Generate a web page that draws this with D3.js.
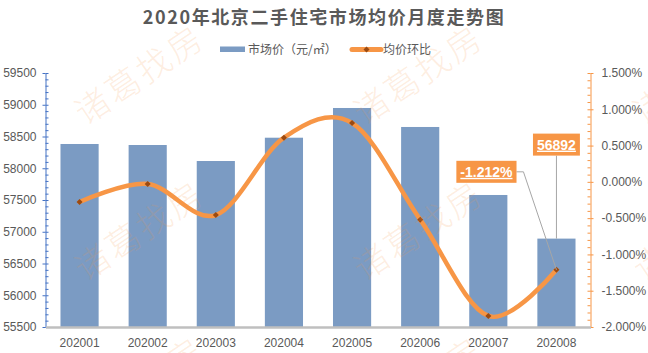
<!DOCTYPE html>
<html>
<head>
<meta charset="utf-8">
<script src="https://cdn.jsdelivr.net/npm/d3@7"></script>
<style>
  body { margin: 0; background: #fff; }
  svg { display: block; font-family: "Liberation Sans", "Noto Sans CJK SC", sans-serif; }
</style>
</head>
<body>
<div id="chart"></div>
<script>
// Data
const months = ['202001', '202002', '202003', '202004', '202005', '202006', '202007', '202008'];
const prices = [58382, 58366, 58114, 58481, 58949, 58650, 57579, 56892];   // 市场价（元/㎡）
const momPct = [-0.278, -0.030, -0.457, 0.609, 0.811, -0.521, -1.848, -1.212]; // 均价环比 (%)
const priceTicks = [55500, 56000, 56500, 57000, 57500, 58000, 58500, 59000, 59500];
const pctTicks = [-2, -1.5, -1, -0.5, 0, 0.5, 1, 1.5];

const width = 648;
const height = 353;
const margin = { top: 73, right: 57.5, bottom: 26, left: 45.5 };

const barColor = '#7b9bc3';
const lineColor = '#f79646';
const markerColor = '#9a4a12';
const textColor = '#595959';

const svg = d3.select('#chart').append('svg')
    .attr('width', width)
    .attr('height', height);

// Scales
const x = d3.scaleBand()
    .domain(months)
    .range([margin.left, width - margin.right])
    .paddingInner(0.44)
    .paddingOuter(0.22);

const yL = d3.scaleLinear()
    .domain([55500, 59500])
    .range([height - margin.bottom, margin.top]);

const yR = d3.scaleLinear()
    .domain([-2, 1.5])
    .range([height - margin.bottom, margin.top]);

const cx = d => x(d) + x.bandwidth() / 2;
const marker = d3.symbol(d3.symbolSquare, 18)();

// Title
svg.append('text')
    .attr('x', width / 2)
    .attr('y', 24)
    .attr('text-anchor', 'middle')
    .attr('font-family', '"Noto Sans CJK SC", sans-serif')
    .attr('font-size', 18)
    .attr('font-weight', 'bold')
    .attr('letter-spacing', 1.6)
    .attr('fill', textColor)
    .text('2020年北京二手住宅市场均价月度走势图');

// Legend
const legend = svg.append('g')
    .attr('font-family', '"Noto Sans CJK SC", sans-serif')
    .attr('font-size', 12)
    .attr('fill', textColor);
legend.append('rect')
    .attr('x', 220).attr('y', 46.5).attr('width', 25).attr('height', 5.5)
    .attr('fill', barColor);
legend.append('text')
    .attr('x', 248).attr('y', 53.5)
    .text('市场价（元/㎡）');
legend.append('line')
    .attr('x1', 352).attr('x2', 381).attr('y1', 49.5).attr('y2', 49.5)
    .attr('stroke', lineColor).attr('stroke-width', 5).attr('stroke-linecap', 'round');
legend.append('path')
    .attr('d', marker)
    .attr('transform', 'translate(366.5,49.5) rotate(45)')
    .attr('fill', markerColor);
legend.append('text')
    .attr('x', 383).attr('y', 53.5)
    .text('均价环比');

// Bars
svg.selectAll('rect.bar')
    .data(months)
    .enter().append('rect')
    .attr('class', 'bar')
    .attr('x', d => x(d))
    .attr('y', (d, i) => yL(prices[i]))
    .attr('width', x.bandwidth())
    .attr('height', (d, i) => yL(55500) - yL(prices[i]))
    .attr('fill', barColor);

// Left axis (major ticks cross the line, minor ticks inside)
const leftAxis = svg.append('g')
    .attr('transform', `translate(${margin.left},0)`)
    .call(d3.axisLeft(yL).tickValues(priceTicks).tickSize(3).tickSizeOuter(0).tickPadding(6)
        .tickFormat(d3.format('d')));
leftAxis.select('.domain').attr('stroke', '#4472c4');
leftAxis.selectAll('line').attr('stroke', '#4472c4');
leftAxis.selectAll('text').attr('fill', textColor).attr('font-size', 12);

const leftMinor = svg.append('g')
    .attr('transform', `translate(${margin.left},0)`)
    .call(d3.axisRight(yL).tickValues(d3.range(55500, 59501, 100)).tickSize(3).tickSizeOuter(0).tickFormat(''));
leftMinor.select('.domain').remove();
leftMinor.selectAll('line').attr('stroke', '#4472c4');

// Right axis
const rx = width - margin.right;
const rightAxis = svg.append('g')
    .attr('transform', `translate(${rx},0)`)
    .call(d3.axisRight(yR).tickValues(pctTicks).tickSize(3).tickSizeOuter(0).tickPadding(8)
        .tickFormat(d => d.toFixed(3) + '%'));
rightAxis.select('.domain').attr('stroke', lineColor);
rightAxis.selectAll('line').attr('stroke', lineColor);
rightAxis.selectAll('text').attr('fill', textColor).attr('font-size', 12);

const rightMinor = svg.append('g')
    .attr('transform', `translate(${rx},0)`)
    .call(d3.axisLeft(yR).tickValues(d3.range(-20, 16).map(v => v / 10)).tickSize(3).tickSizeOuter(0).tickFormat(''));
rightMinor.select('.domain').remove();
rightMinor.selectAll('line').attr('stroke', lineColor);

// Bottom axis
const bottomAxis = svg.append('g')
    .attr('transform', `translate(0,${height - margin.bottom})`)
    .call(d3.axisBottom(x).tickSize(0).tickPadding(11));
bottomAxis.select('.domain').attr('stroke', '#bfbfbf').attr('stroke-width', 2.5);
bottomAxis.selectAll('text').attr('fill', textColor).attr('font-size', 12);

// Smoothed line
const line = d3.line()
    .x((d, i) => cx(months[i]))
    .y(d => yR(d))
    .curve(d3.curveCatmullRom.alpha(0));

svg.append('path')
    .datum(momPct)
    .attr('d', line)
    .attr('fill', 'none')
    .attr('stroke', lineColor)
    .attr('stroke-width', 4.5)
    .attr('stroke-linecap', 'round');

svg.selectAll('path.marker')
    .data(momPct)
    .enter().append('path')
    .attr('class', 'marker')
    .attr('d', marker)
    .attr('transform', (d, i) => `translate(${cx(months[i])},${yR(d)}) rotate(45)`)
    .attr('fill', markerColor);

// Data labels for the last month
const last = months.length - 1;
const lx = cx(months[last]);
const priceTop = yL(prices[last]);
const momY = yR(momPct[last]);

function labelBox(text, cxBox, cyBox) {
    const g = svg.append('g');
    const t = g.append('text')
        .attr('x', cxBox).attr('y', cyBox + 5)
        .attr('text-anchor', 'middle')
        .attr('font-size', 14)
        .attr('font-weight', 'bold')
        .attr('text-decoration', 'underline')
        .attr('fill', '#fff')
        .text(text);
    const w = t.node().getComputedTextLength() + 8;
    g.insert('rect', 'text')
        .attr('x', cxBox - w / 2).attr('y', cyBox - 11)
        .attr('width', w).attr('height', 22)
        .attr('fill', lineColor);
    return w;
}

// leader lines
svg.append('line')
    .attr('x1', lx).attr('x2', lx)
    .attr('y1', priceTop - 83).attr('y2', priceTop)
    .attr('stroke', '#a6a6a6').attr('stroke-width', 1);

const momBoxCx = lx - 70;
const momBoxCy = momY - 98;
svg.append('polyline')
    .attr('points', `${momBoxCx + 30},${momBoxCy} ${momBoxCx + 37},${momBoxCy} ${lx},${momY}`)
    .attr('fill', 'none')
    .attr('stroke', '#a6a6a6').attr('stroke-width', 1);

labelBox(String(prices[last]), lx, priceTop - 94);
labelBox(momPct[last].toFixed(3) + '%', momBoxCx, momBoxCy);

// Watermarks
const marks = [];
[75, 231, 387].forEach(my => [140, 419, 698].forEach(mx => marks.push([mx, my])));
svg.append('g')
    .selectAll('text')
    .data(marks)
    .enter().append('text')
    .attr('transform', d => `translate(${d[0]},${d[1]}) rotate(-34)`)
    .attr('text-anchor', 'middle')
    .attr('dy', '0.35em')
    .attr('font-family', '"Noto Sans CJK SC", sans-serif')
    .attr('font-weight', 300)
    .attr('font-size', 34)
    .attr('letter-spacing', 3)
    .attr('fill', lineColor)
    .attr('fill-opacity', 0.17)
    .text('诸葛找房');
</script>
</body>
</html>
